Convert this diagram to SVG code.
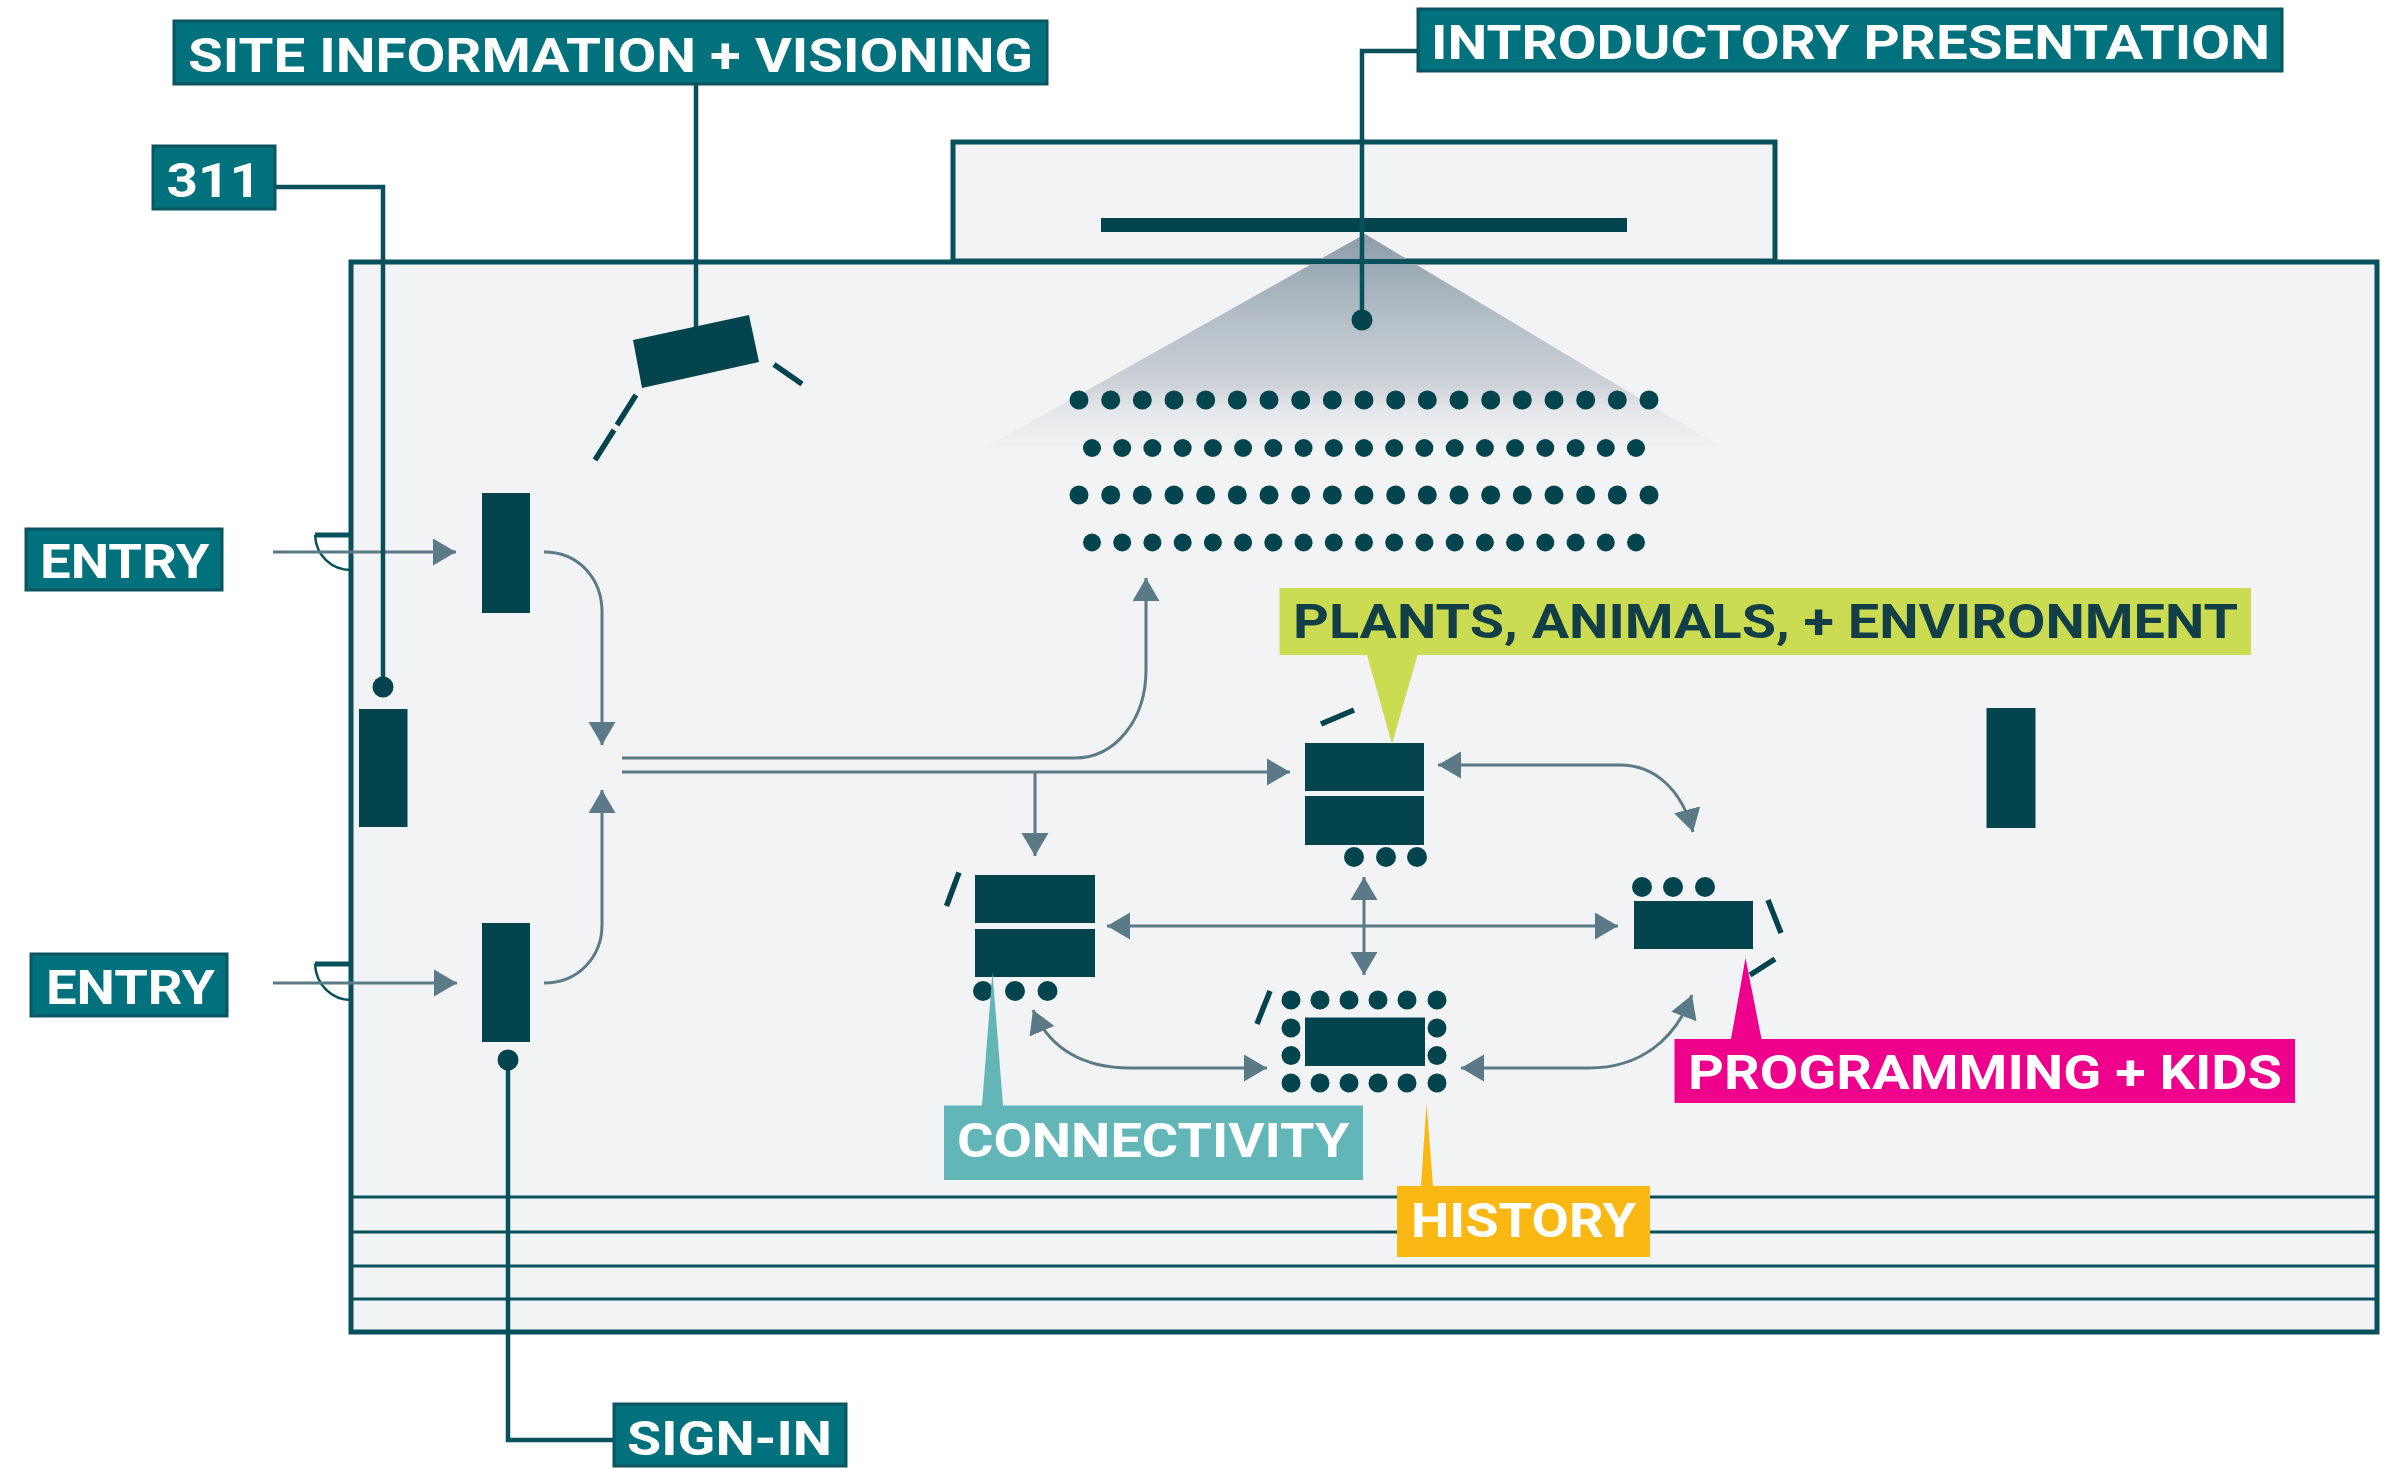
<svg xmlns="http://www.w3.org/2000/svg" width="2384" height="1469" viewBox="0 0 2384 1469">
<style>
.room{fill:#f2f3f5;stroke:#07505c;stroke-width:5}
.rule{stroke:#07505c;stroke-width:3;fill:none}
.dark{fill:#04444f}
.dash{stroke:#04444f;stroke-width:5.500;fill:none}
.flow{stroke:#5b7a88;stroke-width:3;fill:none}
.two{marker-start:url(#head);marker-end:url(#head)}
.one{marker-end:url(#head)}
.leader{stroke:#07505c;stroke-width:4.500;fill:none}
.door{stroke:#07505c;fill:none}
.tag{fill:#00717d;stroke:#0b5560;stroke-width:3}
.lbl{font-family:"Roboto","Liberation Sans",sans-serif;font-weight:700;font-size:49px;fill:#fff}
</style>
<defs>
<marker id="head" markerUnits="userSpaceOnUse" markerWidth="24" markerHeight="28" refX="23" refY="13.500" orient="auto-start-reverse"><path d="M0,0 L23,13.500 L0,27 Z" fill="#5b7a88"/></marker>
<linearGradient id="fade" x1="0" y1="0" x2="0" y2="1"><stop offset="0" stop-color="#8c9da8"/><stop offset=".4" stop-color="#b4bfc7"/><stop offset=".7" stop-color="#ccd1d7"/><stop offset=".82" stop-color="#e4e7ea"/><stop offset="1" stop-color="#f0f1f3"/></linearGradient>
</defs>
<g id="building">
<rect class="room" x="953" y="142" width="822" height="119"/>
<rect class="room" x="351" y="262" width="2026" height="1070"/>
<path class="rule" d="M351,1197H2377M351,1232H2377M351,1266H2377M351,1299H2377"/>
<path d="M1365,234 L1721,447 L986,447 Z" fill="url(#fade)"/>
<path d="M951,261.500H1777" stroke="#07505c" stroke-width="5"/>
<rect class="dark" x="1101" y="218" width="526" height="14"/>
<path class="door" stroke-width="5" d="M315,535H351"/><path class="door" stroke-width="2.500" d="M315,535 C316,556 332,570 351,570"/>
<path class="door" stroke-width="5" d="M315,964H351"/><path class="door" stroke-width="2.500" d="M315,964 C316,985 332,1000 351,1000"/>
</g>
<g id="seating" class="dark">
<g id="row1"><circle cx="1079" cy="400" r="9.500"/><circle cx="1110.700" cy="400" r="9.500"/><circle cx="1142.300" cy="400" r="9.500"/><circle cx="1174" cy="400" r="9.500"/><circle cx="1205.700" cy="400" r="9.500"/><circle cx="1237.300" cy="400" r="9.500"/><circle cx="1269" cy="400" r="9.500"/><circle cx="1300.700" cy="400" r="9.500"/><circle cx="1332.300" cy="400" r="9.500"/><circle cx="1364" cy="400" r="9.500"/><circle cx="1395.700" cy="400" r="9.500"/><circle cx="1427.300" cy="400" r="9.500"/><circle cx="1459" cy="400" r="9.500"/><circle cx="1490.700" cy="400" r="9.500"/><circle cx="1522.300" cy="400" r="9.500"/><circle cx="1554" cy="400" r="9.500"/><circle cx="1585.700" cy="400" r="9.500"/><circle cx="1617.300" cy="400" r="9.500"/><circle cx="1649" cy="400" r="9.500"/></g>
<g id="row2"><circle cx="1092" cy="448" r="9"/><circle cx="1122.200" cy="448" r="9"/><circle cx="1152.400" cy="448" r="9"/><circle cx="1182.700" cy="448" r="9"/><circle cx="1212.900" cy="448" r="9"/><circle cx="1243.100" cy="448" r="9"/><circle cx="1273.300" cy="448" r="9"/><circle cx="1303.600" cy="448" r="9"/><circle cx="1333.800" cy="448" r="9"/><circle cx="1364" cy="448" r="9"/><circle cx="1394.200" cy="448" r="9"/><circle cx="1424.400" cy="448" r="9"/><circle cx="1454.700" cy="448" r="9"/><circle cx="1484.900" cy="448" r="9"/><circle cx="1515.100" cy="448" r="9"/><circle cx="1545.300" cy="448" r="9"/><circle cx="1575.600" cy="448" r="9"/><circle cx="1605.800" cy="448" r="9"/><circle cx="1636" cy="448" r="9"/></g>
<g id="row3"><circle cx="1079" cy="495" r="9.500"/><circle cx="1110.700" cy="495" r="9.500"/><circle cx="1142.300" cy="495" r="9.500"/><circle cx="1174" cy="495" r="9.500"/><circle cx="1205.700" cy="495" r="9.500"/><circle cx="1237.300" cy="495" r="9.500"/><circle cx="1269" cy="495" r="9.500"/><circle cx="1300.700" cy="495" r="9.500"/><circle cx="1332.300" cy="495" r="9.500"/><circle cx="1364" cy="495" r="9.500"/><circle cx="1395.700" cy="495" r="9.500"/><circle cx="1427.300" cy="495" r="9.500"/><circle cx="1459" cy="495" r="9.500"/><circle cx="1490.700" cy="495" r="9.500"/><circle cx="1522.300" cy="495" r="9.500"/><circle cx="1554" cy="495" r="9.500"/><circle cx="1585.700" cy="495" r="9.500"/><circle cx="1617.300" cy="495" r="9.500"/><circle cx="1649" cy="495" r="9.500"/></g>
<g id="row4"><circle cx="1092" cy="542.500" r="9"/><circle cx="1122.200" cy="542.500" r="9"/><circle cx="1152.400" cy="542.500" r="9"/><circle cx="1182.700" cy="542.500" r="9"/><circle cx="1212.900" cy="542.500" r="9"/><circle cx="1243.100" cy="542.500" r="9"/><circle cx="1273.300" cy="542.500" r="9"/><circle cx="1303.600" cy="542.500" r="9"/><circle cx="1333.800" cy="542.500" r="9"/><circle cx="1364" cy="542.500" r="9"/><circle cx="1394.200" cy="542.500" r="9"/><circle cx="1424.400" cy="542.500" r="9"/><circle cx="1454.700" cy="542.500" r="9"/><circle cx="1484.900" cy="542.500" r="9"/><circle cx="1515.100" cy="542.500" r="9"/><circle cx="1545.300" cy="542.500" r="9"/><circle cx="1575.600" cy="542.500" r="9"/><circle cx="1605.800" cy="542.500" r="9"/><circle cx="1636" cy="542.500" r="9"/></g>
</g>
<g id="connectors">
<path class="flow one" d="M273,552H456"/>
<path class="flow one" d="M273,983H457"/>
<path class="flow one" d="M544,552 C580,552 602,580 602,612 L602,745"/>
<path class="flow one" d="M544,983 C580,983 602,955 602,925 L602,790"/>
<path class="flow one" d="M622,758 L1075,758 C1115,758 1146,720 1146,670 L1146,578"/>
<path class="flow one" d="M622,772 L1290,772"/>
<path class="flow one" d="M1035,772 L1035,856"/>
<path class="flow two" d="M1107,926 L1618,926"/>
<path class="flow two" d="M1364,877 L1364,975"/>
<path class="flow two" d="M1438,765 L1620,765 C1655,765 1682,790 1693,832"/>
<path class="flow two" d="M1033,1010 C1050,1050 1085,1068 1130,1068 L1267,1068"/>
<path class="flow two" d="M1461,1068 L1589,1068 C1640,1068 1675,1040 1692,995"/>
<path class="leader" d="M1417,51 H1362 V320"/>
<circle cx="1362" cy="320" r="10.500" class="dark"/>
<path class="leader" d="M696,85 V329"/>
<path class="leader" d="M276,187 H383 V687"/>
<circle cx="383" cy="687" r="10.500" class="dark"/>
<path class="leader" d="M508,1060 V1440 H613"/>
<circle cx="508" cy="1060" r="10.500" class="dark"/>
</g>
<g id="node-site-info"><path class="dark" d="M633,340 L749,315 L759,362 L642,388 Z"/><path class="dash" d="M802,384 L774,364.500 M636,395 L617,425 M614,430 L595,460"/></g>
<g id="node-entry-desk-1"><rect class="dark" x="482" y="493" width="48" height="120"/></g>
<g id="node-entry-desk-2"><rect class="dark" x="482" y="923" width="48" height="119"/></g>
<g id="node-311"><rect class="dark" x="359" y="709" width="48.500" height="118"/></g>
<g id="node-far-desk"><rect class="dark" x="1986.500" y="708" width="49" height="120"/></g>
<g id="node-plants" class="dark"><rect x="1305" y="743" width="119" height="48"/><rect x="1305" y="796" width="119" height="49"/><circle cx="1354" cy="857" r="10"/><circle cx="1386" cy="857" r="10"/><circle cx="1417" cy="857" r="10"/><path class="dash" d="M1321,724 L1354,710"/></g>
<g id="node-connectivity" class="dark"><rect x="975" y="875" width="120" height="48"/><rect x="975" y="929" width="120" height="48"/><circle cx="983" cy="991" r="10"/><circle cx="1015" cy="991" r="10"/><circle cx="1047.500" cy="991" r="10"/><path class="dash" d="M959,872.500 L946.500,906"/></g>
<g id="node-programming" class="dark"><rect x="1634" y="901" width="119" height="48"/><circle cx="1642" cy="887" r="10"/><circle cx="1673" cy="887" r="10"/><circle cx="1705" cy="887" r="10"/><path class="dash" d="M1768,900 L1781,933 M1775,959 L1750,975"/></g>
<g id="node-history" class="dark"><rect x="1305" y="1017.500" width="120" height="48.500"/>
<circle cx="1291" cy="1000" r="9.500"/><circle cx="1320" cy="1000" r="9.500"/><circle cx="1349" cy="1000" r="9.500"/><circle cx="1378" cy="1000" r="9.500"/><circle cx="1407" cy="1000" r="9.500"/><circle cx="1437" cy="1000" r="9.500"/>
<circle cx="1291" cy="1083" r="9.500"/><circle cx="1320" cy="1083" r="9.500"/><circle cx="1349" cy="1083" r="9.500"/><circle cx="1378" cy="1083" r="9.500"/><circle cx="1407" cy="1083" r="9.500"/><circle cx="1437" cy="1083" r="9.500"/>
<circle cx="1291" cy="1028" r="9.500"/><circle cx="1291" cy="1055.500" r="9.500"/><circle cx="1437" cy="1028" r="9.500"/><circle cx="1437" cy="1055.500" r="9.500"/>
<path class="dash" d="M1270,991 L1257,1024"/></g>
<g id="label-site"><rect class="tag" x="174" y="21" width="873" height="63"/><text class="lbl" x="188" y="71.500" textLength="845" lengthAdjust="spacingAndGlyphs">SITE INFORMATION + VISIONING</text></g>
<g id="label-intro"><rect class="tag" x="1418" y="9" width="864" height="62"/><text class="lbl" x="1431" y="59" textLength="839" lengthAdjust="spacingAndGlyphs">INTRODUCTORY PRESENTATION</text></g>
<g id="label-311"><rect class="tag" x="153" y="146" width="122" height="63"/><text class="lbl" x="166.500" y="196.500" textLength="94.500" lengthAdjust="spacingAndGlyphs">311</text></g>
<g id="label-entry-1"><rect class="tag" x="26" y="529" width="196" height="61"/><text class="lbl" x="40" y="578" textLength="169.500" lengthAdjust="spacingAndGlyphs">ENTRY</text></g>
<g id="label-entry-2"><rect class="tag" x="31" y="954" width="196" height="62"/><text class="lbl" x="46" y="1004" textLength="169" lengthAdjust="spacingAndGlyphs">ENTRY</text></g>
<g id="label-sign-in"><rect class="tag" x="614" y="1404" width="232" height="62"/><text class="lbl" x="627" y="1454.500" textLength="205" lengthAdjust="spacingAndGlyphs">SIGN-IN</text></g>
<g id="label-plants"><path d="M1279.500,588 H2251 V655 H1417.500 L1392,744 L1367,655 H1279.500 Z" fill="#cbdc52"/><text class="lbl" x="1293" y="638" textLength="945" lengthAdjust="spacingAndGlyphs" style="fill:#123f47">PLANTS, ANIMALS, + ENVIRONMENT</text></g>
<g id="label-connectivity"><path d="M944,1105.500 H982 L992.500,972 L1003,1105.500 H1363 V1180 H944 Z" fill="#62b6b8"/><text class="lbl" x="957" y="1157" textLength="392.500" lengthAdjust="spacingAndGlyphs">CONNECTIVITY</text></g>
<g id="label-history"><path d="M1397,1186 H1421 L1426.500,1103 L1433,1186 H1650 V1257 H1397 Z" fill="#fbb813"/><text class="lbl" x="1411" y="1237" textLength="225" lengthAdjust="spacingAndGlyphs">HISTORY</text></g>
<g id="label-programming"><path d="M1674.500,1039 H1731 L1745.500,958 L1761.500,1039 H2295 V1103 H1674.500 Z" fill="#ee008c"/><text class="lbl" x="1688" y="1089" textLength="594" lengthAdjust="spacingAndGlyphs">PROGRAMMING + KIDS</text></g>
</svg>
